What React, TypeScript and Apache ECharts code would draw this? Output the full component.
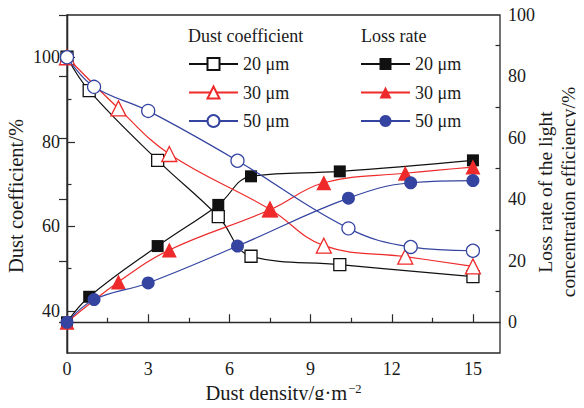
import React, { useEffect, useRef } from "react";
import * as echarts from "echarts";

// Dust density (g·m⁻²) at which each particle size was measured
const density20 = [0, 0.82, 3.35, 5.59, 6.8, 10.08, 15];
const density30 = [0, 1.9, 3.78, 7.5, 9.49, 12.5, 15];
const density50 = [0, 1.0, 3.0, 6.3, 10.4, 12.7, 15];

// Dust coefficient (%)
const coef20 = [100, 92.1, 75.6, 62.3, 52.9, 50.9, 48.1];
const coef30 = [100, 87.9, 77.1, 64.0, 55.4, 52.8, 50.5];
const coef50 = [100, 93.0, 87.3, 75.5, 59.5, 55.1, 54.2];

// Loss rate of the light concentration efficiency (%)
const loss20 = [0, 8.3, 24.8, 38.2, 47.5, 49.1, 52.7];
const loss30 = [0, 13.1, 23.5, 36.6, 45.4, 48.5, 50.5];
const loss50 = [0, 7.4, 12.8, 24.8, 40.4, 45.4, 46.1];

// Axis ticks
const densityTicks = [0, 3, 6, 9, 12, 15];
const densityMinorTicks = [1.5, 4.5, 7.5, 10.5, 13.5];
const coefTicks = [40, 60, 80, 100];
const coefMinorTicks = [50, 70, 90];
const lossTicks = [0, 20, 40, 60, 80, 100];
const lossMinorTicks = [10, 30, 50, 70, 90];

const sizeLabels = ["20 μm", "30 μm", "50 μm"];

const FONT = "'Liberation Serif', 'Times New Roman', serif";
const INK = "#1a1a1a";
const BLACK = "#111111";
const RED = "#ee2a2a";
const BLUE = "#3444a0";

const pairs = (xs: number[], ys: number[]) => xs.map((x, i) => [x, ys[i]]);

type Spec = {
  id: string;
  xs: number[];
  ys: number[];
  color: string;
  symbol: string;
  size: number;
  open: boolean;
  axis: number;
  z: number;
};

const specs: Spec[] = [
  { id: "coef20", xs: density20, ys: coef20, color: BLACK, symbol: "rect", size: 12, open: true, axis: 0, z: 3 },
  { id: "coef30", xs: density30, ys: coef30, color: RED, symbol: "triangle", size: 15, open: true, axis: 0, z: 4 },
  { id: "coef50", xs: density50, ys: coef50, color: BLUE, symbol: "circle", size: 13, open: true, axis: 0, z: 5 },
  { id: "loss20", xs: density20, ys: loss20, color: BLACK, symbol: "rect", size: 12, open: false, axis: 1, z: 3 },
  { id: "loss30", xs: density30, ys: loss30, color: RED, symbol: "triangle", size: 15, open: false, axis: 1, z: 4 },
  { id: "loss50", xs: density50, ys: loss50, color: BLUE, symbol: "circle", size: 13, open: false, axis: 1, z: 5 },
];

const legendText: Record<string, string> = {
  coef20: sizeLabels[0],
  coef30: sizeLabels[1],
  coef50: sizeLabels[2],
  loss20: sizeLabels[0],
  loss30: sizeLabels[1],
  loss50: sizeLabels[2],
};

const labelStyle = { fontFamily: FONT, fontSize: 18, color: INK };
const nameStyle = { fontFamily: FONT, fontSize: 20.5, color: INK };
const axisLineStyle = { show: true, lineStyle: { color: "#2a2a2a", width: 1.3 } };

function majorAxisBase() {
  return {
    axisLine: axisLineStyle,
    splitLine: { show: false },
    axisTick: { show: true, inside: true, length: 8, lineStyle: { color: "#2a2a2a", width: 1.2 } },
  };
}

function minorAxis(extra: Record<string, unknown>, values: number[]) {
  return {
    type: "value",
    ...extra,
    axisLine: { show: false },
    splitLine: { show: false },
    axisLabel: { show: false },
    axisTick: {
      show: true,
      inside: true,
      length: 4.5,
      customValues: values,
      lineStyle: { color: "#2a2a2a", width: 1.2 },
    },
  };
}

export default function App() {
  const ref = useRef<HTMLDivElement>(null);

  useEffect(() => {
    if (!ref.current) return;
    const chart = echarts.init(ref.current, undefined, { renderer: "svg" });

    const densityRange = { min: 0, max: 16 };
    const coefRange = { min: 30, max: 110 };
    const lossRange = { min: -10, max: 100 };

    const series = specs.map((s) => ({
      name: s.id,
      type: "line",
      xAxisIndex: 0,
      yAxisIndex: s.axis,
      data: pairs(s.xs, s.ys),
      smooth: 0.4,
      symbol: s.symbol,
      symbolSize: s.size,
      showAllSymbol: true,
      z: s.z,
      lineStyle: { color: s.color, width: 1.2 },
      itemStyle: s.open
        ? { color: "#ffffff", borderColor: s.color, borderWidth: 1.3 }
        : { color: s.color, borderColor: s.color, borderWidth: 0 },
      emphasis: { disabled: true },
    }));

    const legendBase = {
      orient: "vertical",
      top: 55,
      itemWidth: 49,
      itemHeight: 15,
      itemGap: 10.5,
      padding: 0,
      selectedMode: false,
      formatter: (name: string) => legendText[name],
      textStyle: { ...labelStyle, padding: [0, 0, 0, 0] },
    };

    chart.setOption({
      animation: false,
      backgroundColor: "#ffffff",
      grid: {
        left: 67,
        right: 84,
        top: 15,
        bottom: 55,
        containLabel: false,
        outerBoundsMode: "none",
        show: true,
        borderColor: "#2a2a2a",
        borderWidth: 1.3,
        backgroundColor: "transparent",
      },
      legend: [
        { ...legendBase, left: 188, data: ["coef20", "coef30", "coef50"] },
        { ...legendBase, left: 360, data: ["loss20", "loss30", "loss50"] },
      ],
      xAxis: [
        {
          type: "value",
          ...densityRange,
          ...majorAxisBase(),
          axisTick: { ...majorAxisBase().axisTick, customValues: densityTicks },
          axisLabel: { ...labelStyle, margin: 7, customValues: densityTicks },
          name: "Dust density/g·m{sup|−2}",
          nameLocation: "middle",
          nameGap: 27,
          nameTextStyle: {
            ...nameStyle,
            rich: {
              sup: { fontFamily: FONT, fontSize: 12.5, color: INK, verticalAlign: "top", padding: [0, 0, 0, 1] },
            },
          },
        },
        minorAxis({ ...densityRange, position: "bottom", gridIndex: 0 }, densityMinorTicks),
      ],
      yAxis: [
        {
          type: "value",
          ...coefRange,
          position: "left",
          ...majorAxisBase(),
          axisTick: { ...majorAxisBase().axisTick, customValues: coefTicks },
          axisLabel: { ...labelStyle, margin: 7, customValues: coefTicks },
        },
        {
          type: "value",
          ...lossRange,
          position: "right",
          ...majorAxisBase(),
          axisTick: { ...majorAxisBase().axisTick, customValues: lossTicks },
          axisLabel: { ...labelStyle, margin: 8, customValues: lossTicks },
        },
        minorAxis({ ...coefRange, position: "left", offset: 0 }, coefMinorTicks),
        minorAxis({ ...lossRange, position: "right", offset: 0 }, lossMinorTicks),
      ],
      graphic: [
        {
          type: "text",
          left: 188,
          top: 27,
          style: { text: "Dust coefficient", font: `18px ${FONT}`, fill: INK },
        },
        {
          type: "text",
          left: 361,
          top: 27,
          style: { text: "Loss rate", font: `18px ${FONT}`, fill: INK },
        },
        {
          type: "text",
          x: 16,
          y: 196,
          rotation: Math.PI / 2,
          style: {
            text: "Dust coefficient/%",
            font: `20.5px ${FONT}`,
            fill: INK,
            align: "center",
            verticalAlign: "middle",
          },
        },
        {
          type: "text",
          x: 557,
          y: 192,
          rotation: Math.PI / 2,
          style: {
            text: "Loss rate of the light\nconcentration efficiency/%",
            font: `19.5px ${FONT}`,
            fill: INK,
            align: "center",
            verticalAlign: "middle",
            lineHeight: 23,
          },
        },
      ],
      series,
    });

    return () => chart.dispose();
  }, []);

  return <div ref={ref} style={{ width: 584, height: 408, margin: -8 }} />;
}
